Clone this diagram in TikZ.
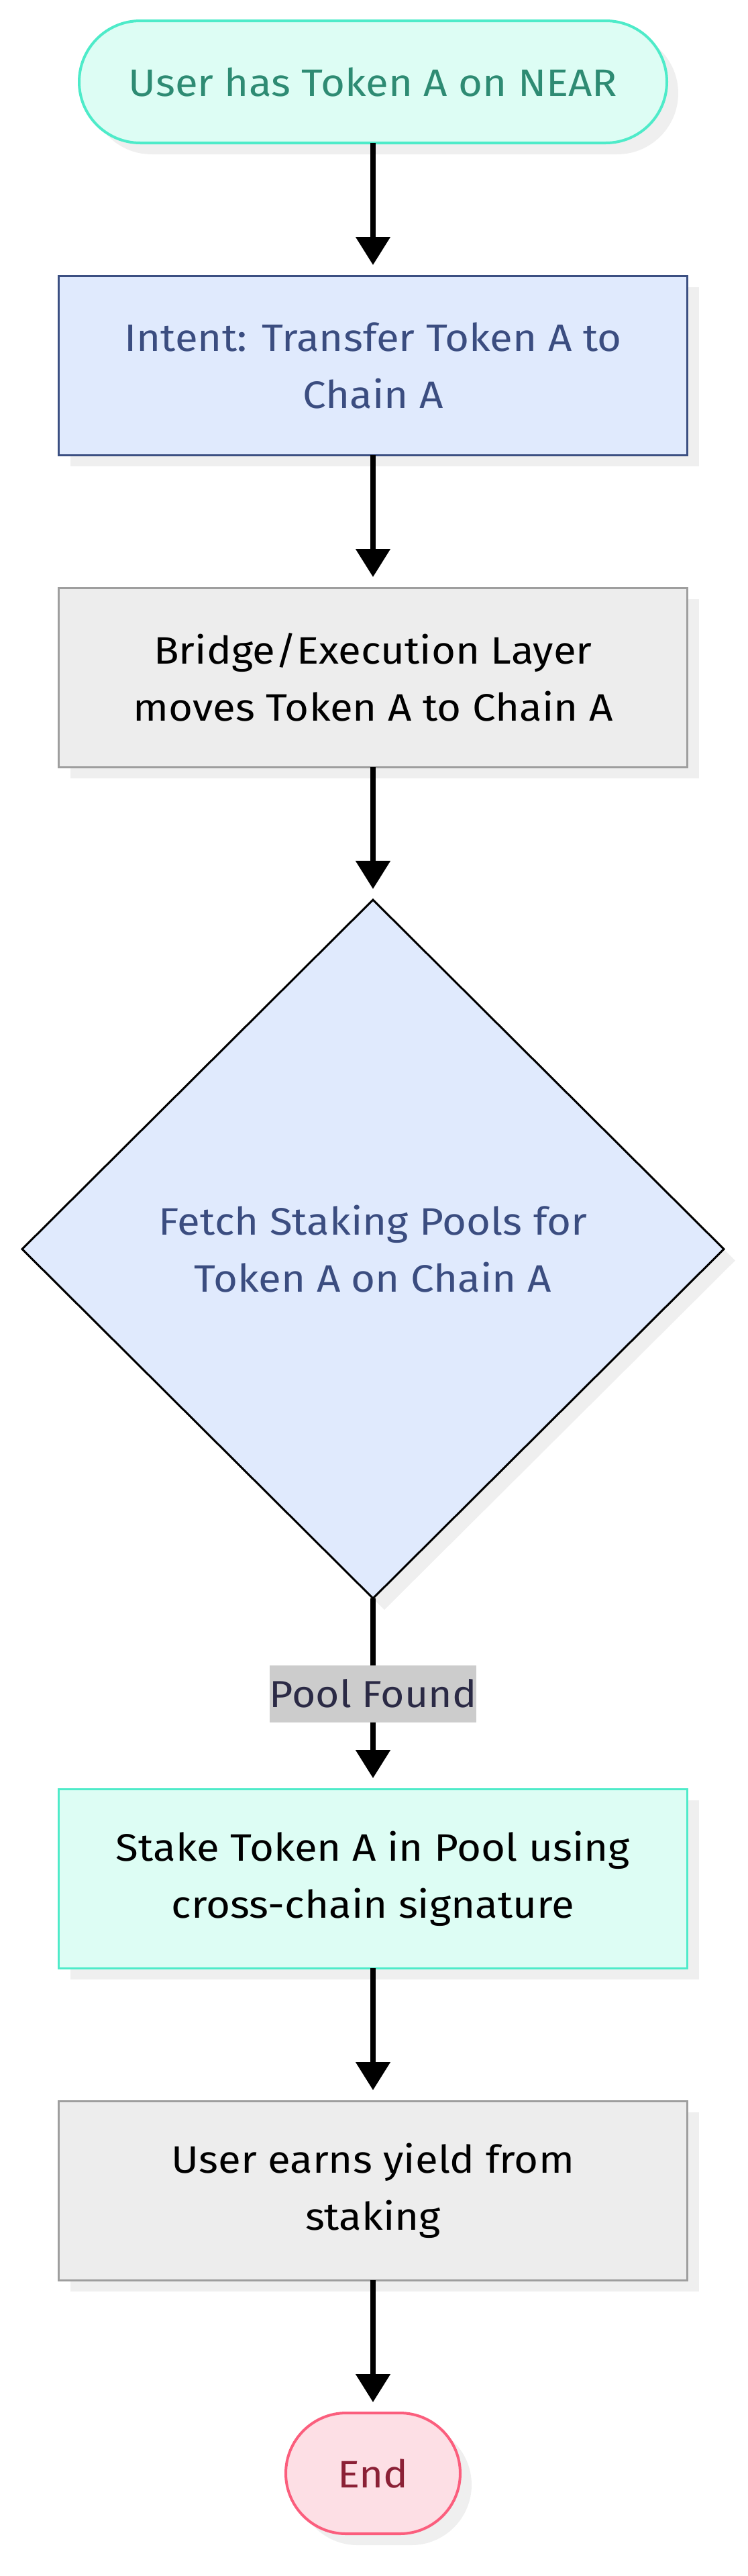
\documentclass[tikz,border=0pt]{standalone}
\usepackage{fontspec}
\setmainfont{Fira Sans}[FakeStretch=1.085]
\usetikzlibrary{positioning,shapes.geometric,shadows,arrows.meta}
\definecolor{mintfill}{HTML}{DDFDF4}
\definecolor{mintline}{HTML}{4EEBC9}
\definecolor{minttext}{HTML}{2E8B73}
\definecolor{bluefill}{HTML}{E0EAFD}
\definecolor{blueline}{HTML}{3B4F82}
\definecolor{bluetext}{HTML}{3B4D80}
\definecolor{greyfill}{HTML}{EDEDED}
\definecolor{greyline}{HTML}{9E9E9E}
\definecolor{pinkfill}{HTML}{FDDFE5}
\definecolor{pinkline}{HTML}{FB5E7D}
\definecolor{pinktext}{HTML}{8B2136}
\definecolor{lblfill}{HTML}{CCCCCC}
\definecolor{lbltext}{HTML}{2B2A45}
\definecolor{shade}{HTML}{EFEFEF}

\begin{document}
\begin{tikzpicture}[
base/.style={outer sep=0pt,align=center,
    font=\fontsize{28.5pt}{42.5pt}\selectfont,
    general shadow={fill=shade,shadow xshift=8.5pt,shadow yshift=-8.5pt}},
proc/.style={base,rectangle,draw,line width=1.5pt,
    minimum width=468.5pt,minimum height=133.5pt},
term/.style={base,rectangle,draw,line width=2pt,minimum height=91pt,
    rounded corners=45.5pt},
decision/.style={base,diamond,draw=black,line width=1.5pt,fill=bluefill,
    text=bluetext,minimum width=523pt,minimum height=520.5pt},
lbl/.style={fill=lblfill,text=lbltext,inner xsep=0pt,inner ysep=0pt,
    minimum height=42.5pt,font=\fontsize{28pt}{42.5pt}\selectfont},
flow/.style={-{Triangle[width=25pt,length=21pt]},line width=4pt,
    shorten >=8pt}]
\useasboundingbox (0,0) rectangle (557pt,-1919.5pt);

\node (start) [term,minimum width=438pt,fill=mintfill,draw=mintline,
    text=minttext] at (278pt,-61pt) {User has Token A on NEAR};
\node (intent) [proc,below=99pt of start,fill=bluefill,draw=blueline,
    text=bluetext] {Intent: Transfer Token A to\\Chain A};
\node (bridge) [proc,below=99pt of intent,fill=greyfill,draw=greyline]
    {Bridge/Execution Layer\\moves Token A to Chain A};
\node (fetch) [decision,below=99pt of bridge]
    {Fetch Staking Pools for\\Token A on Chain A};
\node (stake) [proc,below=142pt of fetch,fill=mintfill,draw=mintline]
    {Stake Token A in Pool using\\cross-chain signature};
\node (yield) [proc,below=99pt of stake,fill=greyfill,draw=greyline]
    {User earns yield from\\staking};
\node (finish) [term,below=99pt of yield,minimum width=130pt,
    minimum height=90pt,rounded corners=45pt,fill=pinkfill,
    draw=pinkline,text=pinktext] {End};

\draw[flow] (start) -- (intent);
\draw[flow] (intent) -- (bridge);
\draw[flow] (bridge) -- (fetch);
\draw[flow] (fetch) -- node[lbl] {Pool Found} (stake);
\draw[flow] (stake) -- (yield);
\draw[flow] (yield) -- (finish);
\end{tikzpicture}
\end{document}
